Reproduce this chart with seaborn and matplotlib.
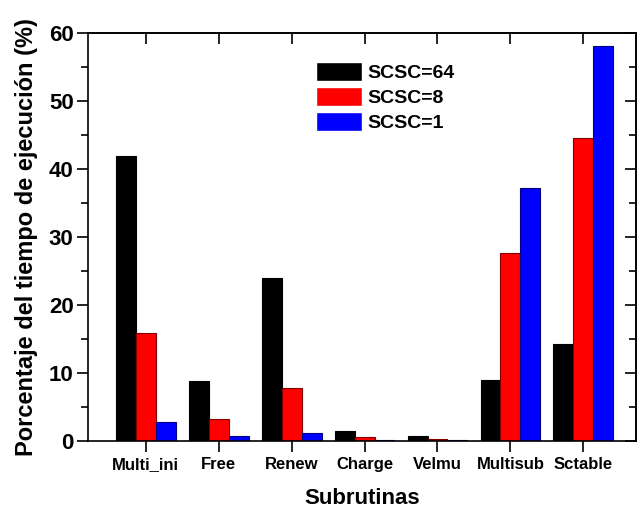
import matplotlib
matplotlib.use("Agg")
import matplotlib.pyplot as plt
import seaborn as sns
import pandas as pd
from matplotlib.ticker import MultipleLocator

categories = ["Multi_ini", "Free", "Renew", "Charge", "Velmu", "Multisub", "Sctable"]
series_names = ["SCSC=64", "SCSC=8", "SCSC=1"]
scsc64 = [41.9, 8.8, 23.9, 1.4, 0.7, 8.9, 14.3]
scsc8 = [15.9, 3.2, 7.7, 0.5, 0.3, 27.7, 44.6]
scsc1 = [2.7, 0.7, 1.1, 0.1, 0.05, 37.2, 58.2]

rows = []
for name, vals in zip(series_names, [scsc64, scsc8, scsc1]):
    for c, v in zip(categories, vals):
        rows.append({"Subrutina": c, "Serie": name, "Valor": v})
df = pd.DataFrame(rows)

sns.set_style("ticks")
plt.rcParams["font.family"] = ["Liberation Sans", "DejaVu Sans"]
plt.rcParams["font.weight"] = "bold"
for k in ["text.color", "axes.labelcolor", "xtick.color", "ytick.color", "axes.edgecolor"]:
    plt.rcParams[k] = "black"

fig = plt.figure(figsize=(6.39, 5.07), dpi=100)
ax = fig.add_axes([0.137, 0.131, 0.858, 0.803])

colors = ["#000000", "#ff0000", "#0000ff"]
edges = ["#000000", "#800000", "#000080"]
sns.barplot(data=df, x="Subrutina", y="Valor", hue="Serie", order=categories,
            hue_order=series_names, palette=colors, width=0.82, gap=0,
            saturation=1, ax=ax, legend=True)
for cont, ec in zip(ax.containers, edges):
    for p in cont:
        p.set_edgecolor(ec)
        p.set_linewidth(0.8)

ax.set_xlim(-0.8, 6.72)
ax.set_ylim(0, 60)
ax.yaxis.set_major_locator(MultipleLocator(10))
ax.yaxis.set_minor_locator(MultipleLocator(5))

for s in ax.spines.values():
    s.set_visible(True)
    s.set_linewidth(1.2)
    s.set_color("black")

ax.tick_params(axis="y", which="major", direction="out", length=8, width=1.2,
               labelsize=16, pad=2, left=True, right=False)
ax.tick_params(axis="y", which="minor", direction="out", length=5, width=1.2,
               left=True, right=False)
ax.tick_params(axis="x", which="major", direction="out", length=8, width=1.2,
               labelsize=12, top=False, pad=4)
# inward ticks on the right and top via secondary axes
ax2 = ax.secondary_yaxis("right")
ax2.yaxis.set_major_locator(MultipleLocator(10))
ax2.yaxis.set_minor_locator(MultipleLocator(5))
ax2.tick_params(axis="y", which="major", direction="in", length=8, width=1.2, labelright=False)
ax2.tick_params(axis="y", which="minor", direction="in", length=5, width=1.2)
ax2.spines["right"].set_linewidth(1.2)
ax3 = ax.secondary_xaxis("top")
ax3.set_xticks(range(len(categories)))
ax3.tick_params(axis="x", direction="in", length=8, width=1.2, labeltop=False)
ax3.spines["top"].set_linewidth(1.2)

for lab in ax.get_xticklabels() + ax.get_yticklabels():
    lab.set_fontweight("bold")

ax.set_xlabel("Subrutinas", fontsize=16, fontweight="bold", labelpad=11)
ax.set_ylabel("Porcentaje del tiempo de ejecución (%)", fontsize=17,
              fontweight="bold", labelpad=8)

leg = ax.legend(loc="upper left", bbox_to_anchor=(0.403, 0.948),
                frameon=False, fontsize=14, handlelength=2.35, handleheight=1.1,
                labelspacing=0.25, handletextpad=0.3, borderaxespad=0)
for t in leg.get_texts():
    t.set_fontweight("bold")

fig.savefig("out.png", dpi=100)
